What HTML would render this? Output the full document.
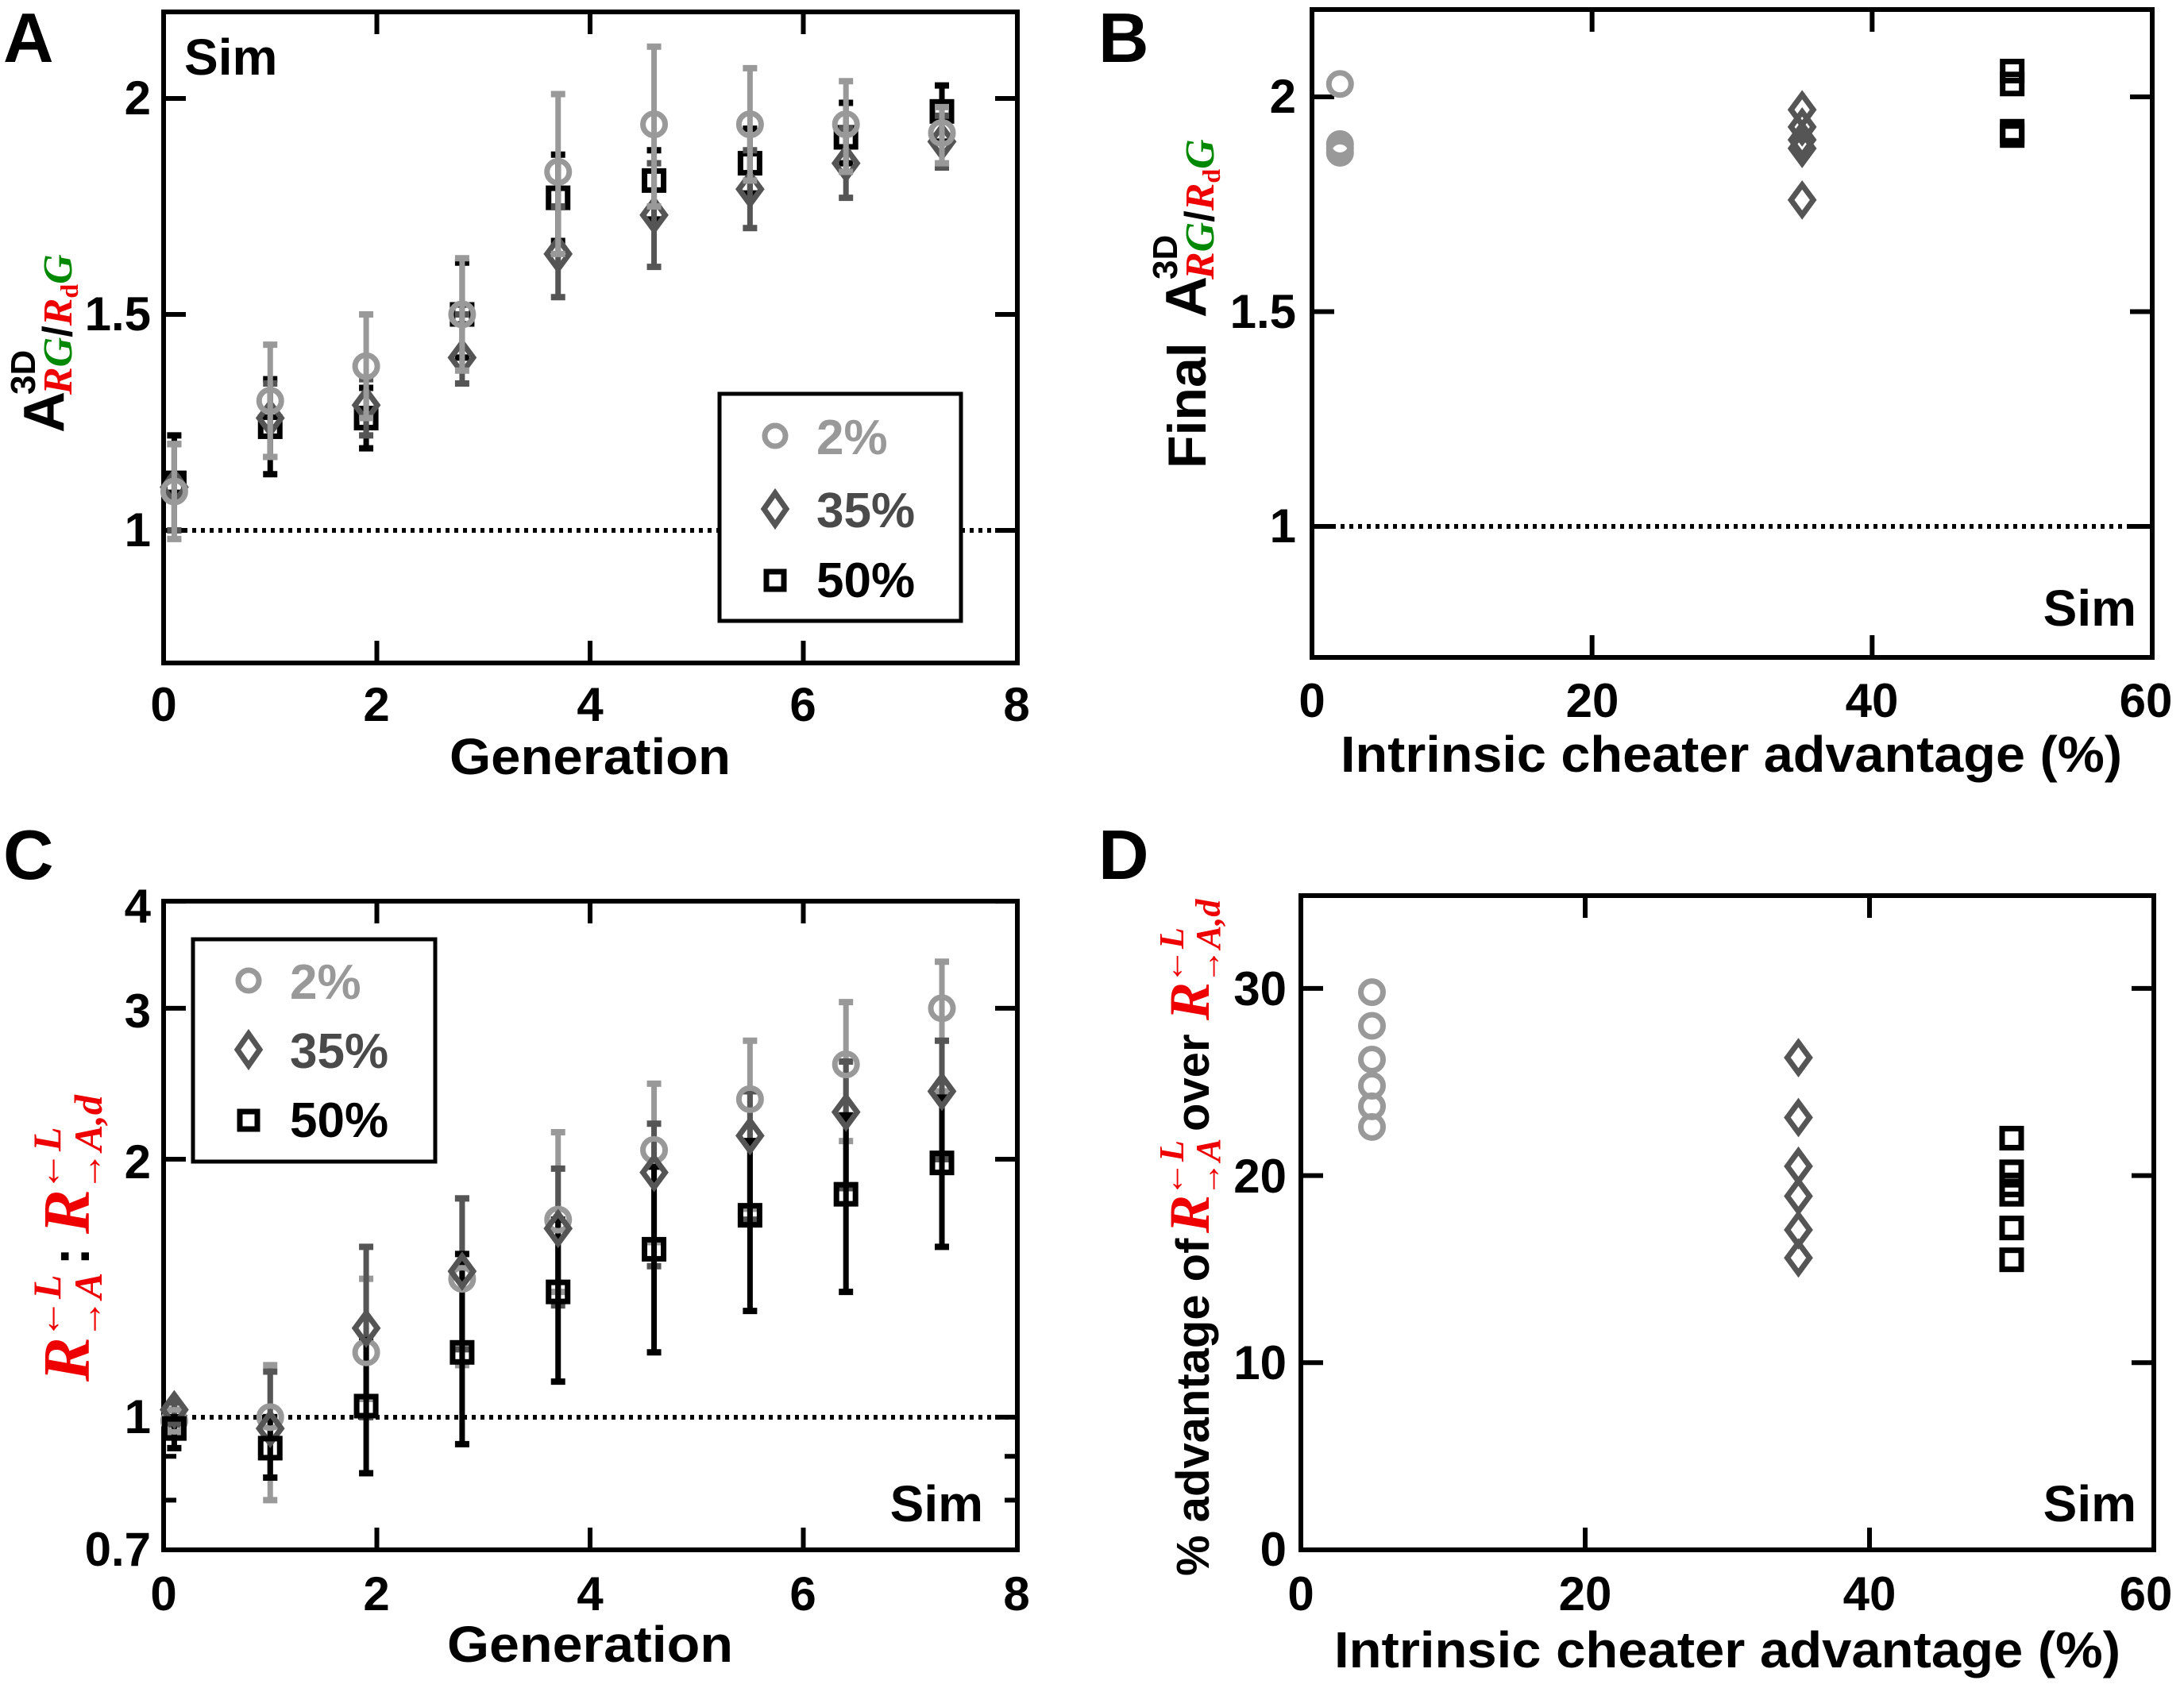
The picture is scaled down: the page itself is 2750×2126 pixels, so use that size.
<!DOCTYPE html>
<html><head><meta charset="utf-8"><style>
html,body{margin:0;padding:0;background:#fff}
svg{display:block}
text{font-family:"Liberation Sans",Arial,sans-serif;font-weight:bold}
.tk{font-size:60px}
.ttl{font-size:64px}
.lab{font-size:88px}
.ser{font-family:"Liberation Serif",serif;font-style:italic;font-weight:bold}
</style></head><body>
<svg id="s" width="2750" height="2126" viewBox="0 0 2750 2126" xmlns="http://www.w3.org/2000/svg">
<rect width="2750" height="2126" fill="#fff"/>
<text class="lab" x="4" y="78">A</text>
<text class="lab" x="1383" y="78">B</text>
<text class="lab" x="4" y="1107">C</text>
<text class="lab" x="1383" y="1107">D</text>

<g fill="none" stroke="#000" stroke-width="6">
<rect x="206" y="15" width="1075" height="820"/>
<rect x="1652" y="12" width="1058" height="816"/>
<rect x="206" y="1135" width="1075" height="817"/>
<rect x="1638" y="1128" width="1074" height="824"/>
</g>
<g id="ticks" stroke="#000" stroke-width="6"></g>

<g stroke="#000" stroke-width="6" stroke-dasharray="5,6">
<line x1="209" y1="668" x2="1278" y2="668"/>
<line x1="1655" y1="663" x2="2707" y2="663"/>
<line x1="209" y1="1785" x2="1278" y2="1785"/>
</g>

<g class="tk" text-anchor="end">
<text x="190" y="144">2</text><text x="190" y="416">1.5</text><text x="190" y="688">1</text>
<text x="1632" y="142">2</text><text x="1632" y="413">1.5</text><text x="1632" y="683">1</text>
<text x="190" y="1162">4</text><text x="190" y="1294">3</text><text x="190" y="1484">2</text><text x="190" y="1805">1</text><text x="190" y="1972">0.7</text>
<text x="1620" y="1266">30</text><text x="1620" y="1502">20</text><text x="1620" y="1737">10</text><text x="1620" y="1972">0</text>
</g>
<g class="tk" text-anchor="middle">
<text x="206" y="908">0</text><text x="474" y="908">2</text><text x="743" y="908">4</text><text x="1011" y="908">6</text><text x="1280" y="908">8</text>
<text x="1652" y="903">0</text><text x="2005" y="903">20</text><text x="2357" y="903">40</text><text x="2702" y="903">60</text>
<text x="206" y="2028">0</text><text x="474" y="2028">2</text><text x="743" y="2028">4</text><text x="1011" y="2028">6</text><text x="1280" y="2028">8</text>
<text x="1638" y="2028">0</text><text x="1996" y="2028">20</text><text x="2354" y="2028">40</text><text x="2702" y="2028">60</text>
</g>
<g class="ttl" text-anchor="middle">
<text x="743" y="975" textLength="354" lengthAdjust="spacingAndGlyphs">Generation</text>
<text x="2180" y="972" textLength="984" lengthAdjust="spacingAndGlyphs">Intrinsic cheater advantage (%)</text>
<text x="743" y="2093" textLength="360" lengthAdjust="spacingAndGlyphs">Generation</text>
<text x="2175" y="2100" textLength="990" lengthAdjust="spacingAndGlyphs">Intrinsic cheater advantage (%)</text>
</g>
<g class="ttl">
<text x="232" y="94">Sim</text>
<text x="2690" y="788" text-anchor="end">Sim</text>
<text x="1238" y="1916" text-anchor="end">Sim</text>
<text x="2690" y="1916" text-anchor="end">Sim</text>
</g>

<g transform="translate(80,545) rotate(-90)">
<text x="0" y="0" font-size="72">A</text>
<text x="48" y="-36" font-size="44">3D</text>
<text x="48" y="10" font-size="52" class="ser"><tspan fill="#e00">R</tspan><tspan fill="#080">G</tspan><tspan fill="#000" font-family="Liberation Sans" font-style="normal">/</tspan><tspan fill="#e00">R</tspan><tspan fill="#e00" font-size="32" dy="8" font-style="normal">d</tspan><tspan fill="#080" dy="-8">G</tspan></text>
</g>
<g transform="translate(1518,590) rotate(-90)">
<text x="0" y="0" font-size="68">Final</text>
<text x="190" y="0" font-size="72">A</text>
<text x="238" y="-36" font-size="44">3D</text>
<text x="238" y="10" font-size="52" class="ser"><tspan fill="#e00">R</tspan><tspan fill="#080">G</tspan><tspan fill="#000" font-family="Liberation Sans" font-style="normal">/</tspan><tspan fill="#e00">R</tspan><tspan fill="#e00" font-size="32" dy="8" font-style="normal">d</tspan><tspan fill="#080" dy="-8">G</tspan></text>
</g>
<g transform="translate(112,1740) rotate(-90)" fill="#e00">
<text class="ser" x="0" y="0" font-size="84">R</text>
<text class="ser" x="54" y="-36" font-size="50">←L</text>
<text class="ser" x="54" y="16" font-size="50">→A</text>
<text x="146" y="0" font-size="70" fill="#000">:</text>
<text class="ser" x="186" y="0" font-size="84">R</text>
<text class="ser" x="240" y="-36" font-size="50">←L</text>
<text class="ser" x="240" y="16" font-size="50">→A,d</text>
</g>
<g transform="translate(1522,1985) rotate(-90)">
<text x="0" y="0" font-size="58">% advantage of</text>
<text class="ser" x="432" y="0" font-size="72" fill="#e00">R</text>
<text class="ser" x="478" y="-32" font-size="44" fill="#e00">←L</text>
<text class="ser" x="478" y="14" font-size="44" fill="#e00">→A</text>
<text x="560" y="0" font-size="58">over</text>
<text class="ser" x="700" y="0" font-size="72" fill="#e00">R</text>
<text class="ser" x="746" y="-32" font-size="44" fill="#e00">←L</text>
<text class="ser" x="746" y="14" font-size="44" fill="#e00">→A,d</text>
</g>

<g id="data"></g>

<g>
<rect x="906" y="496" width="304" height="286" fill="#fff" stroke="#000" stroke-width="5"/>
<circle cx="976" cy="549" r="13" fill="none" stroke="#999" stroke-width="7"/>
<text x="1028" y="572" font-size="62" fill="#999">2%</text>
<path d="M976 621 L990 641 L976 661 L962 641 Z" fill="none" stroke="#555" stroke-width="7"/>
<text x="1028" y="664" font-size="62" fill="#4a4a4a">35%</text>
<rect x="965" y="720" width="22" height="22" fill="none" stroke="#000" stroke-width="7"/>
<text x="1028" y="752" font-size="62" fill="#000">50%</text>

<rect x="243" y="1183" width="305" height="280" fill="#fff" stroke="#000" stroke-width="5"/>
<circle cx="313" cy="1235" r="13" fill="none" stroke="#999" stroke-width="7"/>
<text x="365" y="1258" font-size="62" fill="#999">2%</text>
<path d="M313 1302 L327 1322 L313 1342 L299 1322 Z" fill="none" stroke="#555" stroke-width="7"/>
<text x="365" y="1345" font-size="62" fill="#4a4a4a">35%</text>
<rect x="302" y="1400" width="22" height="22" fill="none" stroke="#000" stroke-width="7"/>
<text x="365" y="1432" font-size="62" fill="#000">50%</text>
</g>
</svg>
<script>
var NS="http://www.w3.org/2000/svg";
function el(p,t,a){var e=document.createElementNS(NS,t);for(var k in a)e.setAttribute(k,a[k]);p.appendChild(e);return e;}
var T=document.getElementById("ticks"),D=document.getElementById("data");
function xA(g){return 206+134.25*g}
function yA(v){return 668-544*(v-1)}
function xB(p){return 1652+p*1058/60}
function yB(v){return 663-541*(v-1)}
function yC(v){return 1952-468.7*Math.log(v/0.7)}
function xD(p){return 1638+p*1074/60}
function yD(v){return 1952-23.57*v}
var L=28;
function hT(x1,x2,y){el(T,"line",{x1:x1,y1:y,x2:x1+L,y2:y});el(T,"line",{x1:x2,y1:y,x2:x2-L,y2:y});}
function vT(y1,y2,x){el(T,"line",{x1:x,y1:y1,x2:x,y2:y1+L});el(T,"line",{x1:x,y1:y2,x2:x,y2:y2-L});}
[2,1.5,1].forEach(function(v){hT(206,1281,yA(v))});
[2,4,6].forEach(function(g){vT(15,835,xA(g))});
[2,1.5,1].forEach(function(v){hT(1652,2710,yB(v))});
[20,40].forEach(function(p){vT(12,828,xB(p))});
[4,3,2,1].forEach(function(v){hT(206,1281,yC(v))});
[0.8,0.9].forEach(function(v){var y=yC(v);el(T,"line",{x1:206,y1:y,x2:222,y2:y});el(T,"line",{x1:1281,y1:y,x2:1265,y2:y});});
[2,4,6].forEach(function(g){vT(1135,1952,xA(g))});
[30,20,10].forEach(function(v){hT(1638,2712,yD(v))});
[20,40].forEach(function(p){vT(1128,1952,xD(p))});

var col={c:"#999",d:"#555",s:"#000"};
function mk(t,x,y){var c=col[t];
 if(t=="c")el(D,"circle",{cx:x,cy:y,r:14,fill:"none",stroke:c,"stroke-width":7});
 else if(t=="d")el(D,"path",{d:"M"+x+" "+(y-19)+"L"+(x+14)+" "+y+"L"+x+" "+(y+19)+"L"+(x-14)+" "+y+"Z",fill:"none",stroke:c,"stroke-width":7});
 else el(D,"rect",{x:x-12,y:y-12,width:24,height:24,fill:"none",stroke:c,"stroke-width":7});}
function eb(t,x,y1,y2){var c=col[t];el(D,"line",{x1:x,y1:y1,x2:x,y2:y2,stroke:c,"stroke-width":7});
 el(D,"line",{x1:x-9,y1:y1,x2:x+9,y2:y1,stroke:c,"stroke-width":8});el(D,"line",{x1:x-9,y1:y2,x2:x+9,y2:y2,stroke:c,"stroke-width":8});}
var G=[0.1,1,1.9,2.8,3.7,4.6,5.5,6.4,7.3];
var A={s:[[1.11,1.0,1.22],[1.24,1.13,1.35],[1.26,1.19,1.33],[1.50,1.40,1.62],[1.77,1.67,1.87],[1.81,1.72,1.88],[1.85,1.78,1.93],[1.91,1.85,1.99],[1.97,1.90,2.03]],
d:[[1.10,1.0,1.2],[1.26,1.17,1.34],[1.29,1.22,1.35],[1.40,1.34,1.5],[1.64,1.54,1.75],[1.73,1.61,1.85],[1.79,1.70,1.88],[1.85,1.77,1.93],[1.90,1.84,1.96]],
c:[[1.09,0.98,1.20],[1.30,1.17,1.43],[1.38,1.26,1.50],[1.50,1.37,1.63],[1.83,1.64,2.01],[1.94,1.75,2.12],[1.94,1.81,2.07],[1.94,1.83,2.04],[1.92,1.85,1.98]]};
["s","d","c"].forEach(function(t){A[t].forEach(function(p,i){var x=xA(G[i]);eb(t,x,yA(p[1]),yA(p[2]));mk(t,x,yA(p[0]));});});
var C={s:[[0.97,0.92,1.0],[0.92,0.85,1.0],[1.03,0.86,1.23],[1.19,0.93,1.55],[1.40,1.1,1.7],[1.57,1.19,1.96],[1.72,1.33,2.1],[1.82,1.4,2.25],[1.98,1.58,2.36]],
d:[[1.02,0.98,1.04],[0.97,0.85,1.13],[1.27,1.0,1.58],[1.48,1.2,1.8],[1.66,1.35,1.95],[1.93,1.5,2.2],[2.13,1.7,2.4],[2.27,1.85,2.6],[2.40,2.0,2.75]],
c:[[0.99,0.95,1.02],[1.0,0.8,1.15],[1.19,1.05,1.45],[1.45,1.15,1.8],[1.70,1.4,2.15],[2.05,1.6,2.45],[2.35,1.75,2.75],[2.58,2.1,3.05],[3.0,2.4,3.4]]};
["c","d","s"].forEach(function(t){C[t].forEach(function(p,i){var x=xA(G[i]);eb(t,x,yC(p[1]),yC(p[2]));});});
["c","d","s"].forEach(function(t){C[t].forEach(function(p,i){mk(t,xA(G[i]),yC(p[0]));});});
[2.03,1.89,1.88,1.87].forEach(function(v){mk("c",xB(2),yB(v))});
[1.97,1.93,1.90,1.88,1.76].forEach(function(v){mk("d",xB(35),yB(v))});
[2.06,2.03,1.92,1.91].forEach(function(v){mk("s",xB(50),yB(v))});
[29.8,28,26.2,24.8,23.7,22.6].forEach(function(v){mk("c",xD(5),yD(v))});
[26.3,23.1,20.5,18.9,17.1,15.6].forEach(function(v){mk("d",xD(35),yD(v))});
[22,20.2,19.5,19,17.2,15.5].forEach(function(v){mk("s",xD(50),yD(v))});
</script>
</body></html>
